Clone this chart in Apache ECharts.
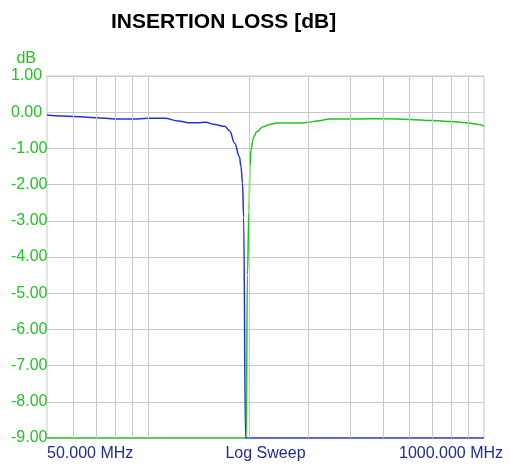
<!DOCTYPE html>
<html>
<head>
    <meta charset="UTF-8">
    <title>Insertion loss</title>
    <style type="text/css">
        body { margin: 0; }
        #mychart { width: 510px; height: 464px; }
    </style>
</head>
<body>
<div id="mychart"></div>
<script src="https://cdn.jsdelivr.net/npm/echarts@6/dist/echarts.min.js"></script>
<script>
    // values (MHz / dB)
    var blueFreq = [50, 60, 70, 80, 90, 100, 112, 123, 132, 140, 148, 158, 169, 175, 181, 187, 189, 191, 192.5, 195, 195.5, 1000];
    var blueDb = [-0.08, -0.12, -0.15, -0.19, -0.19, -0.17, -0.17, -0.24, -0.29, -0.29, -0.28, -0.34, -0.39, -0.52, -0.86, -1.23, -1.5, -1.96, -2.9, -9, -9, -9];

    var greenFreq = [50, 196, 197.5, 199.7, 201, 202.5, 205, 206, 210.5, 220, 230, 241, 260, 283, 300, 318, 348, 400, 458, 500, 600, 700, 800, 900, 966, 1000];
    var greenDb = [-9, -9, -4.5, -2.7, -1.5, -1.04, -0.77, -0.69, -0.54, -0.40, -0.34, -0.30, -0.30, -0.30, -0.28, -0.24, -0.19, -0.19, -0.18, -0.18, -0.20, -0.23, -0.26, -0.30, -0.34, -0.38];

    // vertical log grid lines
    var gridFreqs = [60, 70, 80, 90, 100, 200, 300, 400, 500, 600, 700, 800, 900];

    var fStart = 50, fStop = 1000;
    var yMin = -9, yMax = 1;

    var green = '#22c322';
    var blue = '#2233dd';
    var navy = '#1f2d91';
    var gridGray = '#c8c8c8';
    var font = 'Liberation Sans, Arial, Helvetica, sans-serif';

    function pairs(xs, ys) {
        return xs.map(function (x, i) { return [x, ys[i]]; });
    }

    var mychart = echarts.init(document.getElementById('mychart'));

    mychart.setOption({
        backgroundColor: '#fff',
        animation: false,
        title: {
            text: 'INSERTION LOSS [dB]',
            left: 106,
            top: 7,
            textStyle: { fontFamily: font, fontSize: 21, fontWeight: 'bold', color: '#000' }
        },
        grid: {
            left: 47, right: 26, top: 76, bottom: 26,
            outerBoundsMode: 'none',
            containLabel: false,
            show: true, borderColor: gridGray, borderWidth: 1
        },
        xAxis: {
            type: 'log',
            logBase: 10,
            min: fStart,
            max: fStop,
            name: 'Log Sweep',
            nameLocation: 'middle',
            nameGap: 8,
            nameMoveOverlap: false,
            nameTextStyle: { color: navy, fontFamily: font, fontSize: 16, verticalAlign: 'top' },
            axisLine: { show: false },
            axisTick: { show: false },
            splitLine: { show: false },
            axisLabel: {
                showMinLabel: true,
                showMaxLabel: true,
                alignMinLabel: 'left',
                alignMaxLabel: 'right',
                margin: 8,
                color: navy,
                fontFamily: font,
                fontSize: 16,
                formatter: function (v) {
                    if (Math.abs(v - fStart) < 1) return fStart.toFixed(3) + ' MHz';
                    if (Math.abs(v - fStop) < 1) return '{r|' + fStop.toFixed(3) + ' MHz}';
                    return '';
                },
                rich: {
                    r: { width: 85, align: 'left', color: navy, fontFamily: font, fontSize: 16 }
                }
            }
        },
        yAxis: {
            type: 'value',
            min: yMin,
            max: yMax,
            interval: 1,
            name: 'dB',
            nameLocation: 'end',
            nameGap: 9,
            nameMoveOverlap: false,
            nameTextStyle: { color: green, fontFamily: font, fontSize: 16, align: 'right', padding: [0, 11, 0, 0] },
            axisLine: { show: false },
            axisTick: { show: false },
            splitLine: { lineStyle: { color: gridGray, width: 1 } },
            axisLabel: {
                align: 'left',
                margin: 36,
                color: green,
                fontFamily: font,
                fontSize: 16,
                formatter: function (v) { return v.toFixed(2); }
            }
        },
        series: [
            {
                name: 'grid',
                type: 'line',
                data: [],
                z: 1,
                silent: true,
                markLine: {
                    silent: true,
                    symbol: 'none',
                    label: { show: false },
                    lineStyle: { color: gridGray, width: 1, type: 'solid' },
                    data: gridFreqs.map(function (f) { return { xAxis: f }; })
                }
            },
            {
                name: 'S21 low',
                type: 'line',
                z: 3,
                symbol: 'none',
                smooth: 0.4,
                smoothMonotone: 'x',
                lineStyle: { color: blue, width: 1.5 },
                data: pairs(blueFreq, blueDb)
            },
            {
                name: 'S21 high',
                type: 'line',
                z: 2,
                symbol: 'none',
                smooth: 0.4,
                smoothMonotone: 'x',
                lineStyle: { color: green, width: 1.5 },
                data: pairs(greenFreq, greenDb)
            }
        ]
    });
</script>
</body>
</html>
